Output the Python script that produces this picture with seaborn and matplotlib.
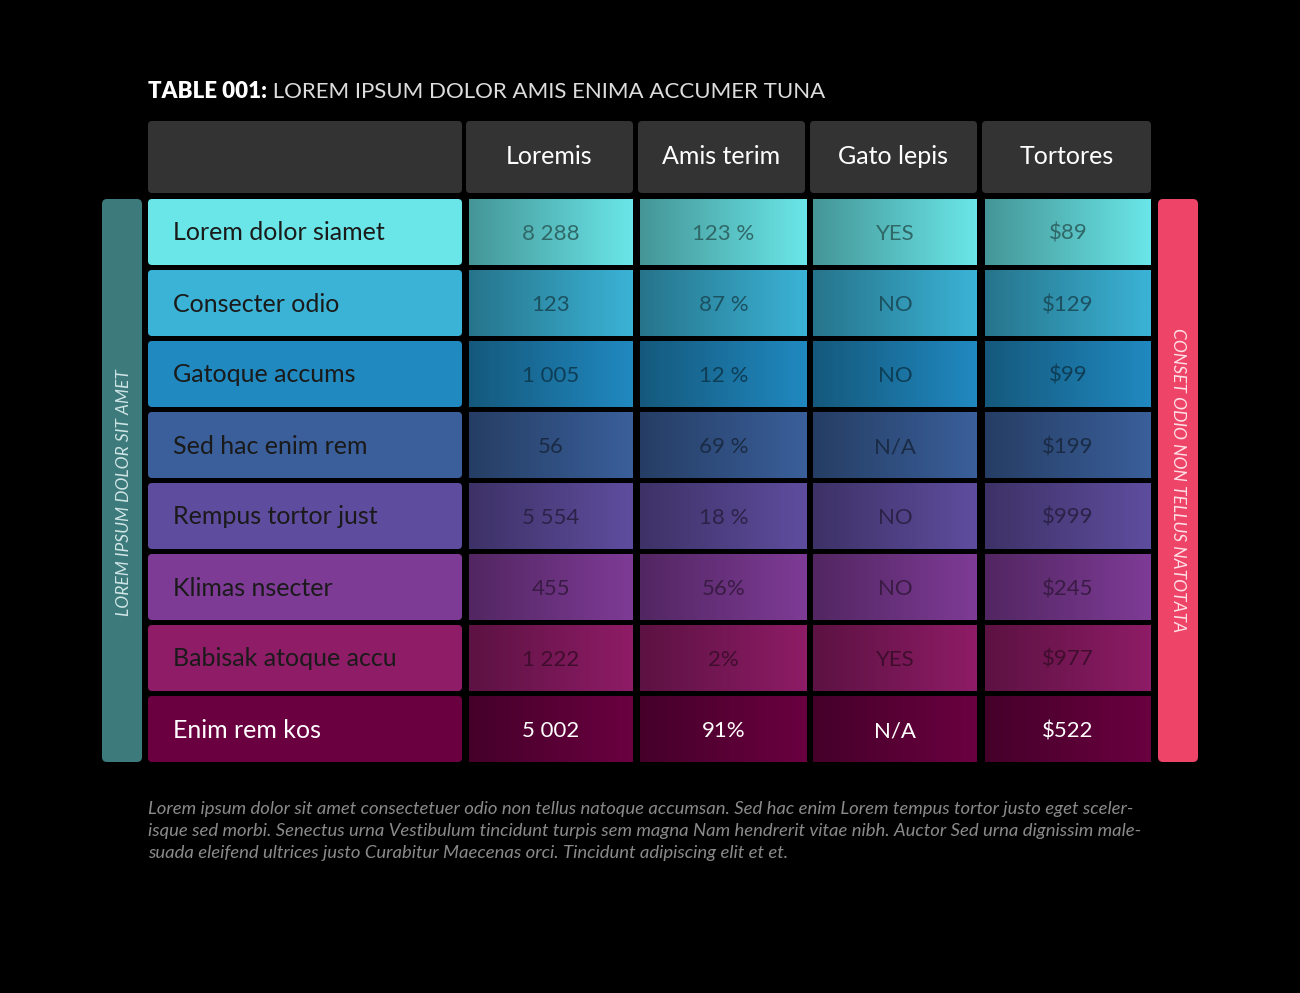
import numpy as np
import seaborn as sns
import matplotlib.pyplot as plt
from matplotlib.patches import FancyBboxPatch
import matplotlib.colors as mc

sns.set_theme(style="white")
plt.rcParams['font.family'] = ['Lato', 'DejaVu Sans']

title_bold = "TABLE 001:"
title_rest = " LOREM IPSUM DOLOR AMIS ENIMA ACCUMER TUNA"
columns = ["Loremis", "Amis terim", "Gato lepis", "Tortores"]
rows = ["Lorem dolor siamet", "Consecter odio", "Gatoque accums", "Sed hac enim rem",
        "Rempus tortor just", "Klimas nsecter", "Babisak atoque accu", "Enim rem kos"]
col1 = ["8 288", "123", "1 005", "56", "5 554", "455", "1 222", "5 002"]
col2 = ["123 %", "87 %", "12 %", "69 %", "18 %", "56%", "2%", "91%"]
col3 = ["YES", "NO", "NO", "N/A", "NO", "NO", "YES", "N/A"]
col4 = ["$89", "$129", "$99", "$199", "$999", "$245", "$977", "$522"]
row_colors = ["#6ae6e8", "#3bb3d6", "#2089c0", "#3a5f9a", "#5e4d9e", "#7e3b96", "#8e1c66", "#6a0040"]
left_label = "LOREM IPSUM DOLOR SIT AMET"
right_label = "CONSET ODIO NON TELLUS NATOTATA"
footer = ["Lorem ipsum dolor sit amet consectetuer odio non tellus natoque accumsan. Sed hac enim Lorem tempus tortor justo eget sceler-",
          "isque sed morbi. Senectus urna Vestibulum tincidunt turpis sem magna Nam hendrerit vitae nibh. Auctor Sed urna dignissim male-",
          "suada eleifend ultrices justo Curabitur Maecenas orci. Tincidunt adipiscing elit et et."]

fig = plt.figure(figsize=(13, 9.93), dpi=100, facecolor="black")
ax = fig.add_axes([0, 0, 1, 1])
ax.set_facecolor("black")
ax.set_xlim(0, 1300); ax.set_ylim(993, 0); ax.axis("off")

def box(x0, y0, x1, y1, color, r=4, z=1):
    ax.add_patch(FancyBboxPatch((x0 + r, y0 + r), x1 - x0 - 2 * r, y1 - y0 - 2 * r,
                                boxstyle=f"round,pad={r}", fc=color, ec="none", zorder=z))

t = ax.text(148, 92, title_bold, color="white", fontsize=16, fontweight="heavy", va="center")
fig.canvas.draw()
bb = t.get_window_extent()
ax.text(148 + bb.width, 92, title_rest, color="#dddddd", fontsize=16, va="center")

hx = [(148, 462), (466, 633), (638, 805), (810, 977), (982, 1151)]
for x0, x1 in hx:
    box(x0, 121, x1, 193, "#333333")
for (x0, x1), c in zip(hx[1:], columns):
    ax.text((x0 + x1) / 2, 157, c, color="white", fontsize=18, ha="center", va="center")

vx = [(469, 633), (640, 807), (813, 977), (985, 1151)]
grad = np.linspace(0, 1, 100)[None, :]
vals = [col1, col2, col3, col4]
for i, (lab, col) in enumerate(zip(rows, row_colors)):
    y0 = 199 + i * 71; y1 = y0 + 66
    last = i == len(rows) - 1
    box(148, y0, 462, y1, col)
    ax.text(173, (y0 + y1) / 2 + 1, lab, color="white" if last else "#1a1a1a", fontsize=18, va="center")
    rgb = np.array(mc.to_rgb(col))
    dark = rgb * 0.65
    for (x0, x1), v in zip(vx, vals):
        img = dark[None, None, :] * (1 - grad[..., None]) + rgb[None, None, :] * grad[..., None]
        ax.imshow(img, extent=(x0, x1, y1, y0), aspect="auto", zorder=1)
        tc = "white" if last else mc.to_hex(rgb * 0.45)
        ax.text((x0 + x1) / 2, (y0 + y1) / 2 + 2, v[i], color=tc, fontsize=16, ha="center", va="center")

box(102, 199, 142, 762, "#3d7a7c", r=5)
box(1158, 199, 1198, 762, "#ee4468", r=5)
ax.text(124, 493, left_label, rotation=90, color="#cfe5e5", fontsize=12.5, style="italic", ha="center", va="center")
ax.text(1178, 480, right_label, rotation=270, color="#ffe0e6", fontsize=12.5, style="italic", ha="center", va="center")

for k, line in enumerate(footer):
    ax.text(148, 809 + k * 22, line, color="#8a8a8a", fontsize=13.3, style="italic", va="center")

fig.savefig("out.png", dpi=100, facecolor="black")
